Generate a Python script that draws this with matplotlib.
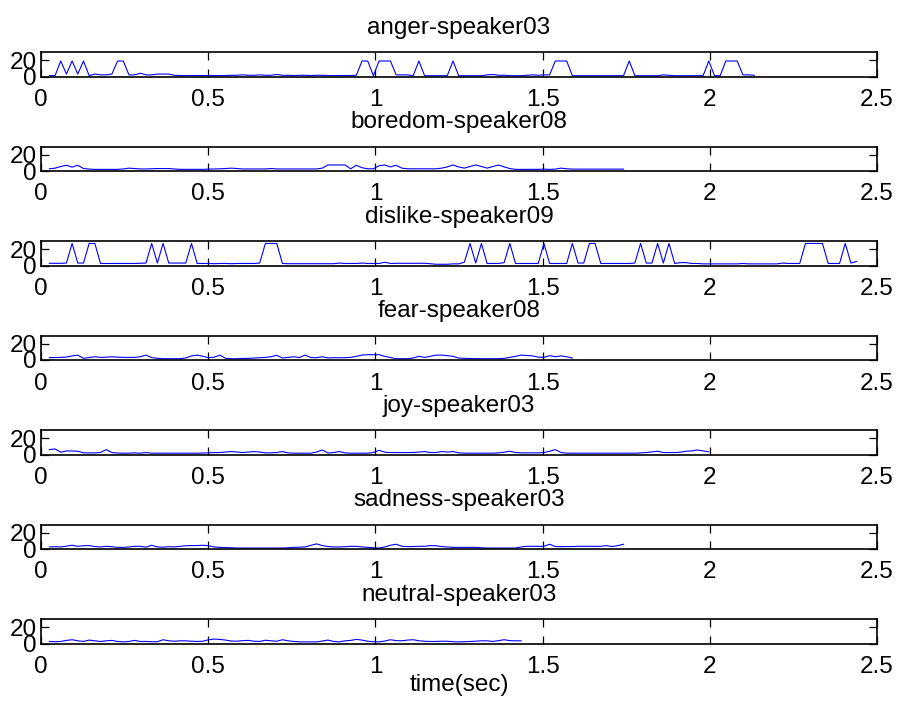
import numpy as np
import matplotlib
matplotlib.use('Agg')
import matplotlib.pyplot as plt

plt.rcParams['font.family'] = ['Liberation Sans', 'DejaVu Sans']
plt.rcParams['font.size'] = 18

# frame times (sec) of the pitch track
frame_start = 0.025
frame_step = 0.017

titles = ['anger-speaker03', 'boredom-speaker08', 'dislike-speaker09',
          'fear-speaker08', 'joy-speaker03', 'sadness-speaker03',
          'neutral-speaker03']

anger = [1, 1, 19, 3, 19, 3, 19, 1, 3, 2, 2, 3, 19, 19, 2, 2, 4, 2, 2, 3,
         3, 3, 1.5, 1.2, 1.2, 1.2, 1.2, 1.2, 1.2, 1.2, 1.2, 1.2, 1.5, 1.5, 2, 1.5,
         1.5, 2, 1.5, 1.5, 2.5, 1.5, 1.5, 1.2, 1.5, 1.5, 1.2, 1.5, 1.5, 1.2, 1.2, 1.2,
         1.2, 1.2, 1.5, 19, 19, 1, 19, 19, 19, 2, 2, 2, 1, 19, 1, 1, 1, 1,
         1, 19, 1, 1, 1, 1, 1, 2, 2.5, 1.5, 1.5, 1, 1, 1, 1.5, 2, 1.5, 2, 2, 19,
         19, 19, 1, 1, 1, 1, 1, 1, 1, 1, 1, 1, 19, 1, 1, 1, 1, 1, 2, 1.5,
         1, 1, 1, 1, 1, 1, 19, 1, 1, 19, 19, 19, 2, 2, 1.5]

boredom = [2.7, 3.5, 5.5, 7, 4.7, 7, 3, 2.3, 2, 2, 2, 2, 2, 2.5, 3.5, 3, 2.5, 2.5,
           2.7, 3, 3, 3, 2.5, 2, 2, 2, 2, 2, 2.3, 2.5, 2.7, 3, 3.5, 3, 2.5, 2.5,
           2.5, 2.5, 2.5, 3, 2.5, 2.5, 2.5, 2.5, 2.5, 2.5, 2.5, 2.5, 3.5, 7.4, 7.4,
           7.4, 7.4, 2.7, 7, 4, 2.7, 2.7, 6.5, 7.4, 5, 7, 3.5, 2.7, 2.7, 2.7, 2.7,
           2.7, 2.7, 3.5, 5, 7.4, 5, 3.5, 5.5, 7.4, 5.5, 3.5, 5.5, 7.4, 5, 3, 2, 2,
           2, 2, 2, 2.3, 2, 2.3, 3.5, 2.7, 2.3, 2.3, 2.3, 2.3, 2.3, 2.3, 2.3, 2.3,
           2.3, 2.3]

dislike = [2.7, 2.7, 2.7, 3, 27, 3, 3, 27, 27, 2.5, 2.5, 2.5, 2.5, 2.5, 2.5, 2.5,
           2.7, 3, 27, 3, 27, 3, 3, 3, 3, 27, 2.5, 2.5, 2.5, 2.2, 2.5, 2.5, 2.2,
           2.5, 2.5, 2.5, 2.5, 3, 27, 27, 27, 2.5, 2.2, 2.2, 2.2, 2.2, 2.2, 2.2,
           2.2, 2.2, 2.2, 3, 2.5, 2.5, 2.5, 3, 2.5, 2.5, 2.5, 4, 2.5, 2.7, 2.7,
           2.7, 2.7, 2.7, 2.7, 2.2, 1.5, 1.5, 1.5, 2, 2, 4, 27, 3, 27, 2.5, 2.5,
           2.5, 3.5, 27, 2.5, 2.5, 2.5, 2.5, 2.5, 27, 2.5, 2.5, 2.5, 2.5, 27, 3, 3,
           27, 27, 2.5, 2.5, 2.5, 2.5, 2.5, 2.5, 3, 27, 3, 3, 27, 3, 27, 2.5, 3.5,
           3.5, 2.5, 2.5, 2, 2, 2, 2, 2, 2, 2, 2.5, 2, 2, 2, 2, 2, 2, 3, 2.5, 2.5,
           2.5, 27, 27, 27, 27, 2.5, 2.5, 2.5, 27, 3, 5]

fear = [2.8, 3, 3.2, 3.6, 5, 6, 2, 3, 4, 3.2, 3.5, 4, 3.5, 3.2, 3.2, 3.2, 4, 6,
        3, 2, 1.6, 1.6, 1.6, 1.6, 2.5, 5, 6, 4.5, 2.8, 3.5, 6, 2, 1.6, 1.6, 1.8,
        2, 2.4, 2.8, 3.2, 4, 5.7, 2.4, 3.2, 4, 3, 6, 3, 2.8, 4, 2.6, 2.8, 2.8,
        2.8, 3.2, 4.5, 6, 6.5, 6.5, 6.5, 4.5, 3, 1.6, 1.6, 1.6, 2.4, 4.5, 3.2,
        4.5, 6, 6, 5.3, 4.5, 2.4, 2, 1.8, 1.6, 1.6, 1.6, 1.6, 1.6, 2, 3.2, 4.5,
        6, 5.5, 5, 3.5, 3.2, 5.3, 4, 5, 4, 2.4]

joy = [6, 6.8, 2.8, 4.4, 4.2, 4, 2, 2, 2, 2.4, 6, 2.4, 1.8, 1.6, 1.6, 2, 1.6,
       2.4, 1.6, 1.6, 1.6, 1.6, 1.6, 1.6, 1.6, 1.6, 1.6, 1.8, 2, 2.4, 2.4, 3,
       3.6, 3, 2.4, 3, 3.6, 3, 2, 2, 2.4, 3.6, 2, 1.6, 1.6, 1.6, 1.6, 3, 5.6,
       1.8, 2.4, 3.6, 2, 1.6, 1.6, 1.6, 1.6, 2.4, 5.2, 2.8, 2.4, 2.4, 2.4, 2.4,
       2.4, 3, 3.6, 2.4, 2.4, 3.6, 3, 3.6, 2, 1.6, 1.6, 1.6, 1.6, 1.6, 1.6, 2,
       2.8, 4, 2.4, 2, 2, 2, 2, 2.4, 4, 6, 2.4, 1.6, 1.6, 1.6, 1.6, 1.6, 1.6,
       1.6, 1.6, 1.6, 1.6, 1.6, 1.6, 1.6, 2, 2.4, 3.2, 4, 2.4, 2.4, 2.4, 2.8, 4,
       4.4, 5.6, 4.4, 3.2]

sadness = [2.5, 2.8, 2.5, 3.5, 4.6, 3.3, 4, 4.2, 3, 2.5, 3.3, 2.8, 2, 2, 2.5,
           3.3, 3.3, 2.2, 4.6, 2.5, 2.2, 2.8, 2.5, 3.3, 4, 4.2, 4.2, 4.6, 4, 2.5,
           2, 1.8, 1.5, 1.2, 1.2, 1.2, 1.2, 1.2, 1.2, 1.2, 1.2, 1.2, 1.5, 2, 2.2,
           2.5, 4.5, 6.3, 4.2, 3, 2.5, 2.5, 2.8, 3.3, 3.3, 2.5, 2, 1.5, 1.2, 2.5,
           4.6, 5.8, 3.3, 3, 3, 3.3, 3.3, 4.2, 4, 3, 2.5, 2, 2, 2, 2, 2, 1.5, 1.2,
           1.2, 1.2, 1.2, 1.2, 1.2, 2.5, 3.3, 3.3, 3.3, 3.3, 5.8, 3, 2.8, 3, 3,
           3.3, 3.3, 3.3, 3.3, 3.3, 4.2, 3, 4.2, 5.8]

neutral = [2.5, 2.2, 2.5, 3.8, 4.6, 3.3, 2.5, 4.2, 3.3, 2.5, 3.3, 3.8, 2.5, 2,
           2.5, 3.8, 2.5, 2.5, 2.2, 2.2, 4.6, 3.3, 2.8, 3.3, 3.3, 2.8, 2.5, 2.8,
           4.6, 5.4, 5, 4.2, 3, 2.8, 3.5, 3.8, 2.8, 2.5, 4, 3.3, 2.8, 4.6, 3.3,
           2.5, 2, 2, 2, 2, 3, 4.2, 2.5, 2, 3.3, 3.8, 5, 4.2, 2.8, 2.2, 2, 3, 4.6,
           3.5, 3.3, 4.2, 4.6, 3.3, 2.8, 2.5, 2.5, 2.8, 2.8, 2.2, 2, 2.2, 2.5, 2.8,
           3.3, 3.3, 2.5, 3.5, 4.6, 3.5, 3.3, 3.3]

series = [anger, boredom, dislike, fear, joy, sadness, neutral]

x_ticks = [0, 0.5, 1, 1.5, 2, 2.5]
x_tick_labels = ['0', '0.5', '1', '1.5', '2', '2.5']
y_ticks = [0, 20]
y_tick_labels = ['0', '20']

W, H = 897, 708
fig = plt.figure(figsize=(W / 100, H / 100), dpi=100)

# seven stacked strips, matlab-like subplot(7,1,k)
ax_left, ax_width = 41, 836
ax_h, first_top, row_gap = 24.5, 52, 94.5

for k, (name, vals) in enumerate(zip(titles, series)):
    top = first_top + row_gap * k
    ax = fig.add_axes([ax_left / W, 1 - (top + ax_h) / H, ax_width / W, ax_h / H])
    t = frame_start + frame_step * np.arange(len(vals))
    ax.plot(t, vals, color='#0000ff', lw=0.8)
    ax.set_xlim(0, 2.5)
    ax.set_ylim(0, 30)
    ax.set_xticks(x_ticks)
    ax.set_xticklabels(x_tick_labels)
    ax.set_yticks(y_ticks)
    ax.set_yticklabels(y_tick_labels)
    ax.tick_params(direction='in', length=5.5, width=0.9, top=True, right=True,
                   labelsize=17.5)
    ax.tick_params(axis='x', pad=9)
    ax.tick_params(axis='y', pad=3)
    for sp in ax.spines.values():
        sp.set_linewidth(1.2)
    ax.set_title(name, fontsize=17.5, pad=13)
    if k == len(series) - 1:
        ax.set_xlabel('time(sec)', fontsize=17.5, labelpad=-3)

fig.savefig('out.png', dpi=100)
